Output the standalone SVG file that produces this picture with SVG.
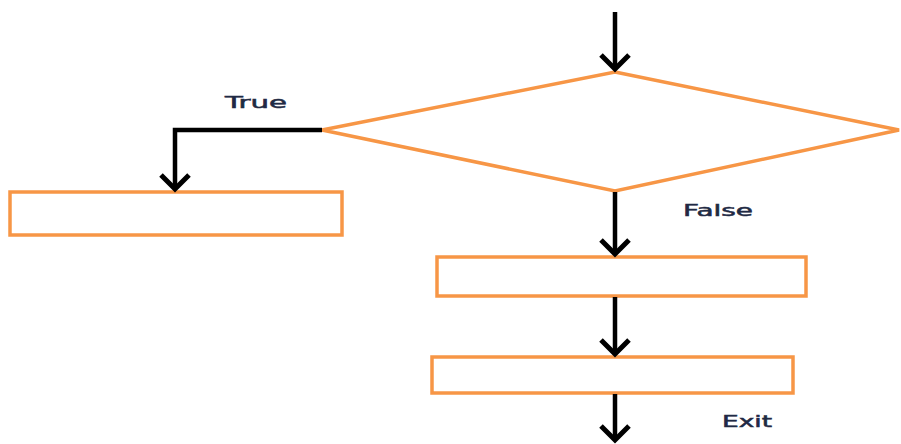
<svg xmlns="http://www.w3.org/2000/svg" width="901" height="444" viewBox="0 0 901 444">
<style>
.shape{fill:#fff;stroke:#f79646;stroke-width:3.5}
.conn{fill:none;stroke:#000;stroke-width:4.5}
.lbl{font-family:"DejaVu Sans",sans-serif;font-size:15px;fill:#1f2a44;stroke:#1f2a44;stroke-width:0.5}
</style>
<defs>
<marker id="ah" markerUnits="userSpaceOnUse" markerWidth="40" markerHeight="40" viewBox="-20 -20 40 40" refX="0" refY="0" orient="auto" overflow="visible">
<path d="M-14,-14 L0,0 L-14,14" fill="none" stroke="#000" stroke-width="5" stroke-linejoin="miter"/>
</marker>
</defs>
<rect width="901" height="444" fill="#fff"/>
<g id="decision"><polygon class="shape" points="615,72 899,130 615,191 322,130"/></g>
<g id="trueBox"><rect class="shape" x="10" y="192" width="332" height="43"/></g>
<g id="step1"><rect class="shape" x="437" y="257" width="369" height="39"/></g>
<g id="step2"><rect class="shape" x="432" y="357" width="361" height="36"/></g>
<g id="connectors">
<path class="conn" d="M615,12 V69" marker-end="url(#ah)"/>
<path class="conn" d="M322,130 H175 V189" stroke-width="3.5" marker-end="url(#ah)"/>
<path class="conn" d="M615,192 V254" marker-end="url(#ah)"/>
<path class="conn" d="M615,297 V354" marker-end="url(#ah)"/>
<path class="conn" d="M615,394 V440" marker-end="url(#ah)"/>
</g>
<g id="labels">
<text class="lbl" x="225" y="108" textLength="62" lengthAdjust="spacingAndGlyphs">True</text>
<text class="lbl" x="683" y="216" textLength="70" lengthAdjust="spacingAndGlyphs">False</text>
<text class="lbl" x="722" y="427" textLength="50" lengthAdjust="spacingAndGlyphs">Exit</text>
</g>
</svg>
